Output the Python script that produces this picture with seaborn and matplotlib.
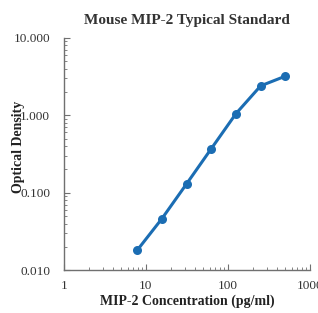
import pandas as pd
import numpy as np
import matplotlib
matplotlib.use("Agg")
import matplotlib.pyplot as plt
import matplotlib.ticker as mticker
import seaborn as sns

# standard curve readings
conc = [7.8, 15.6, 31.25, 62.5, 125, 250, 500]
od = [0.018, 0.046, 0.13, 0.37, 1.05, 2.4, 3.2]
x_ticks = [1, 10, 100, 1000]
y_ticks = [0.01, 0.1, 1, 10]

df = pd.DataFrame({"conc": conc, "od": od})

sns.set_style("white")
plt.rcParams['font.family'] = ['Liberation Serif', 'DejaVu Serif']

fig = plt.figure(figsize=(3.18, 3.13), dpi=100)
ax = fig.add_axes([0.201, 0.137, 0.774, 0.742])

sns.lineplot(data=df, x="conc", y="od", ax=ax, color="#1b6db3", linewidth=2.2,
             marker="o", markersize=6.5, markeredgewidth=0)

ax.set_xscale("log")
ax.set_yscale("log")
ax.set_xlim(1, 1000)
ax.set_ylim(0.01, 10)
ax.set_xticks(x_ticks)
ax.set_xticklabels([str(t) for t in x_ticks])
ax.set_yticks(y_ticks)
ax.yaxis.set_major_formatter(mticker.FuncFormatter(lambda v, p: "%.3f" % v))
ax.xaxis.set_minor_locator(mticker.LogLocator(base=10, subs=np.arange(2, 10)))
ax.yaxis.set_minor_locator(mticker.LogLocator(base=10, subs=np.arange(2, 10)))
ax.xaxis.set_minor_formatter(mticker.NullFormatter())
ax.yaxis.set_minor_formatter(mticker.NullFormatter())

for s in ["top", "right"]:
    ax.spines[s].set_visible(False)
for s in ["left", "bottom"]:
    ax.spines[s].set_color("#707070")
    ax.spines[s].set_linewidth(1.0)

ax.tick_params(which="both", direction="in", left=True, bottom=True,
               colors="#707070", labelcolor="#333333", labelsize=9.5)
ax.tick_params(which="major", length=4, width=0.8)
ax.tick_params(which="minor", length=2.5, width=0.6)
ax.tick_params(axis="y", which="major", pad=10)
ax.tick_params(axis="x", which="major", pad=7)

ax.set_title("Mouse MIP-2 Typical Standard", fontsize=11, fontweight="bold", color="#333333", pad=10)
ax.set_xlabel("MIP-2 Concentration (pg/ml)", fontsize=10, fontweight="bold", color="#222222", labelpad=2)
ax.set_ylabel("Optical Density", fontsize=10, fontweight="bold", color="#222222", labelpad=-5)
ax.yaxis.set_label_coords(-0.16, 0.53)

fig.savefig("out.png", dpi=100)
